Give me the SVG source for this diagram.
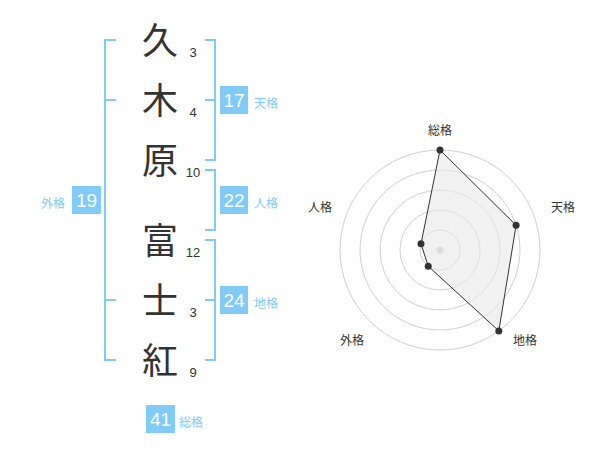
<svg xmlns="http://www.w3.org/2000/svg" width="600" height="470" viewBox="0 0 600 470">
<style>
.ch{font-family:"Noto Sans CJK JP","Noto Sans CJK SC",sans-serif;font-size:36px;fill:#333;text-anchor:middle}
.num{font-family:"Liberation Sans",Arial,sans-serif;font-size:13px;fill:#333;text-anchor:middle}
.br{fill:none;stroke:#80cbf8;stroke-width:2}
.box{fill:#80cbf8}
.bt{font-family:"Liberation Sans",Arial,sans-serif;font-size:19px;fill:#fff;text-anchor:middle}
.lb{font-family:"Noto Sans CJK JP","Noto Sans CJK SC",sans-serif;font-size:12px;fill:#80cbf8}
.ring{fill:none;stroke:#d0d0d0;stroke-width:1}
.rl{font-family:"Noto Sans CJK JP","Noto Sans CJK SC",sans-serif;font-size:12px;fill:#333;text-anchor:middle}
.pt{fill:#333}
</style>
<rect width="600" height="470" fill="#fff"/>
<g id="connectors">
<path class="br" d="M116,40 H105 V360 H116 M105,100 H116 M105,300 H116"/>
<path class="br" d="M205,40 H215 V160 H205 M205,100 H215"/>
<path class="br" d="M205,170 H215 V230 H205"/>
<path class="br" d="M205,240 H215 V360 H205 M205,300 H215"/>
</g>
<g id="char1"><text class="ch" x="160" y="54">久</text><text class="num" x="193" y="57">3</text></g>
<g id="char2"><text class="ch" x="160" y="114">木</text><text class="num" x="193" y="117">4</text></g>
<g id="char3"><text class="ch" x="160" y="174">原</text><text class="num" x="193" y="177">10</text></g>
<g id="char4"><text class="ch" x="160" y="254">富</text><text class="num" x="193" y="257">12</text></g>
<g id="char5"><text class="ch" x="160" y="314">士</text><text class="num" x="193" y="317">3</text></g>
<g id="char6"><text class="ch" x="160" y="374">紅</text><text class="num" x="193" y="377">9</text></g>
<g id="tenkaku"><rect class="box" x="220" y="86" width="28" height="28"/><text class="bt" x="234" y="107">17</text><text class="lb" x="254" y="108">天格</text></g>
<g id="jinkaku"><rect class="box" x="220" y="186" width="28" height="28"/><text class="bt" x="234" y="207">22</text><text class="lb" x="254" y="208">人格</text></g>
<g id="chikaku"><rect class="box" x="220" y="286" width="28" height="28"/><text class="bt" x="234" y="307">24</text><text class="lb" x="254" y="308">地格</text></g>
<g id="gaikaku"><rect class="box" x="72" y="186" width="29" height="28"/><text class="bt" x="86.5" y="207">19</text><text class="lb" x="41" y="208">外格</text></g>
<g id="soukaku"><rect class="box" x="146" y="405" width="29" height="28"/><text class="bt" x="160.5" y="426">41</text><text class="lb" x="179" y="427">総格</text></g>
<g id="radar">
<circle class="ring" cx="440" cy="250" r="20"/>
<circle class="ring" cx="440" cy="250" r="40"/>
<circle class="ring" cx="440" cy="250" r="60"/>
<circle class="ring" cx="440" cy="250" r="80"/>
<circle class="ring" cx="440" cy="250" r="100"/>
<circle cx="440" cy="250" r="3.5" fill="#ccc"/>
<polygon points="440,150 516.1,225.3 498.8,330.9 428.2,266.2 421,243.8" fill="#e8e8e8" fill-opacity="0.6" stroke="#333" stroke-width="1"/>
<circle class="pt" cx="440" cy="150" r="3.5"/>
<circle class="pt" cx="516.1" cy="225.3" r="3.5"/>
<circle class="pt" cx="498.8" cy="330.9" r="3.5"/>
<circle class="pt" cx="428.2" cy="266.2" r="3.5"/>
<circle class="pt" cx="421" cy="243.8" r="3.5"/>
<text class="rl" x="440" y="135">総格</text>
<text class="rl" x="563" y="212">天格</text>
<text class="rl" x="525" y="345">地格</text>
<text class="rl" x="352" y="345">外格</text>
<text class="rl" x="320" y="212">人格</text>
</g>
</svg>
